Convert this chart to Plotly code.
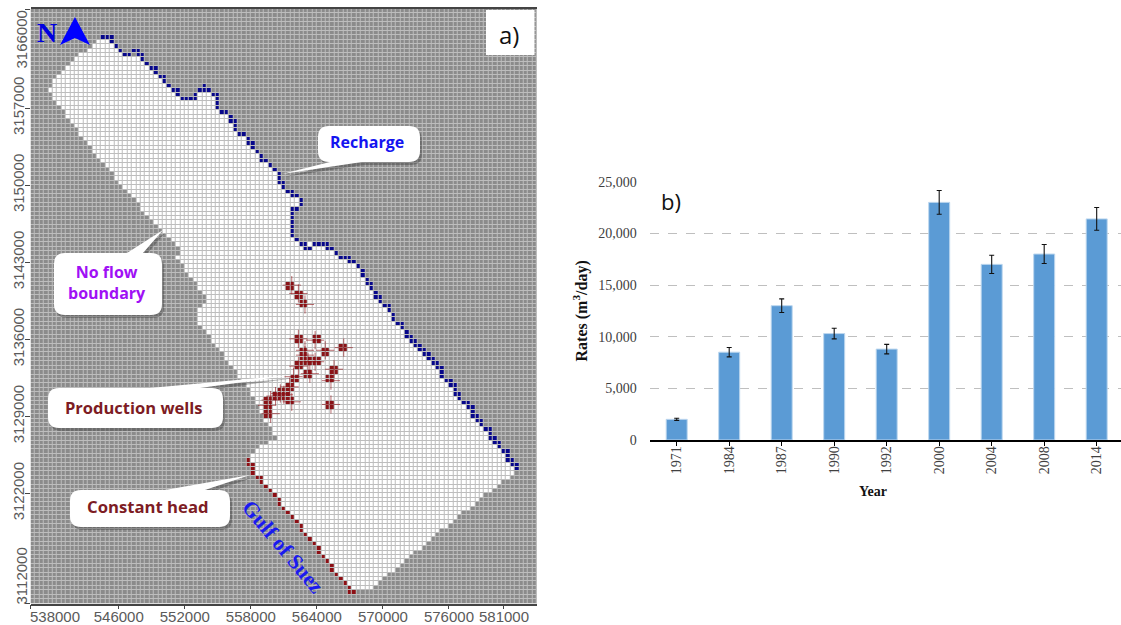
import numpy as np
import plotly.graph_objects as go

# ---------- panel b data ----------
years = ["1971", "1984", "1987", "1990", "1992", "2000", "2004", "2008", "2014"]
rates = [2000, 8500, 13000, 10300, 8800, 23000, 17000, 18000, 21400]
rate_err = [100, 450, 660, 515, 460, 1150, 880, 920, 1100]

# ---------- panel a data (model grid: 400 m cells, columns from W, rows from N) ----------
x_ticks = [546000, 552000, 558000, 564000, 570000, 576000, 581000]
y_ticks = [3122000, 3129000, 3136000, 3143000, 3150000, 3157000]
x_end_ticks = [538000]
y_end_ticks = [3112000, 3166000]
active_first_row = 7
active_left = [15,14,13,11,10,9,8,7,6,5,5,4,5,5,6,7,8,8,9,10,11,11,12,13,14,14,15,16,
               17,18,19,19,20,21,22,23,24,25,25,26,27,28,29,30,31,32,33,34,34,33,34,
               35,35,36,37,38,38,39,40,40,39,38,38,38,38,39,40,41,41,42,43,44,44,45,46,47,47,48,49,50,
               50,51,51,52,52,53,53,54,55,55,56,54,52,51,50,50,
               49,50,50,51,52,53,54,55,56,56,57,58,59,60,61,61,62,63,64,65,65,66,67,68,68,69,70,71,72,72]
active_right = [18,19,20,22,25,26,28,28,30,30,31,33,33,42,42,42,44,45,46,46,46,48,49,50,50,51,52,
                53,54,55,56,56,57,57,59,60,61,61,60,59,59,59,59,59,59,60,67,68,69,72,73,74,75,75,
                76,77,77,78,79,79,81,81,82,82,84,84,85,86,87,88,89,90,91,92,93,93,93,95,96,96,97,97,
                99,100,100,101,102,102,104,104,105,106,106,108,108,109,110,110,
                109,108,106,105,104,102,101,100,99,97,96,95,94,92,91,90,89,88,86,85,84,83,82,80,79,78,77,73]
bump_row = [19]
bump_first = [38]
bump_last = [40]
recharge_cells = [(16,6),(17,6),(18,6),(18,7),(19,8),(20,9),(21,10),(22,10),(23,9),(24,9),(24,10),(25,10),(25,11),
    (26,12),(27,13),(28,13),(28,14),(29,15),(30,15),(30,16),(31,17),(32,18),(33,18),(33,19),(34,20),(35,20),(36,20),
    (37,20),(37,19),(38,18),(39,17),(39,18),(40,18),(41,19),(42,19),(42,20),(42,21),(42,22),(43,23),(44,23),(45,24),
    (45,25),(46,25),(46,26),(46,27),(47,28),(48,28),(49,29),(49,30),(50,30),(50,31),(51,32),(52,33),(52,34),(53,34),
    (54,35),(55,36),(56,37),(56,38),(56,39),(57,39),(57,40),(58,41),(59,41),(59,42),(60,42),(61,43),(61,44),(60,45),
    (59,45),(59,46),(59,47),(59,48),(59,49),(59,50),(59,51),(60,52),(61,53),(62,53),(62,54),(63,54),(64,53),(65,53),
    (66,53),(67,53),(67,54),(68,54),(69,55),(70,56),(71,56),(72,56),(72,57),(73,57),(74,58),(75,59),(75,60),(76,61),
    (76,62),(77,62),(77,63),(78,64),(78,65),(79,65),(79,66),(80,67),(81,67),(81,68),(82,69),(82,70),(83,71),(84,71),
    (84,72),(85,73),(85,74),(86,74),(86,75),(87,75),(87,76),(88,76),(88,77),(89,77),(89,78),(90,78),(90,79),(91,79),
    (91,80),(92,80),(92,81),(93,81),(93,82),(93,83),(94,84),(95,84),(95,85),(96,85),(96,86),(96,87),(97,87),(97,88),
    (98,89),(99,89),(99,90),(100,90),(100,91),(100,92),(101,92),(101,93),(102,93),(102,94),(103,95),(104,95),(104,96),
    (104,97),(105,97),(105,98),(106,98),(106,99),(107,100),(108,100),(108,101),(108,102),(109,102),(109,103),(110,103),(110,104)]
constant_cells = [(49,102),(49,103),(50,103),(50,104),(50,105),(51,106),(52,106),(52,107),(53,108),(54,109),(55,110),
    (56,111),(56,112),(57,113),(58,114),(59,115),(60,116),(61,117),(61,118),(62,119),(63,120),(64,121),(65,122),(65,123),
    (66,124),(67,125),(68,126),(68,127),(69,128),(70,129),(71,130),(72,131),(72,132),(73,132)]
well_col = [59.3,60.8,62.3,60.8,64.6,71.1,66.9,62.3,62.3,60.8,63.0,64.6,68.9,63.4,59.7,68.2,58.8,56.7,55.6,54.5,53.7,59.3,54.5,68.2,57.5]
well_row = [62.7,64.6,67.1,74.9,75.2,76.9,77.5,77.5,78.6,81.1,80.1,80.1,81.8,82.8,83.5,84.4,85.8,87.3,87.9,88.8,90.0,89.2,91.9,89.8,87.6]

W, H = 1121, 625
X0, Y1, CELL = 538000, 3166000, 400
NCOL, NROW = 115, 135

z = np.zeros((NROW, NCOL), dtype=int)
for i, (a, b) in enumerate(zip(active_left, active_right)):
    z[active_first_row + i, a:b + 1] = 1
for r, a, b in zip(bump_row, bump_first, bump_last):
    z[r, a:b + 1] = 1
for c, r in recharge_cells:
    z[r, c] = 2
for c, r in constant_cells:
    z[r, c] = 3
for c, r in zip(well_col, well_row):
    ci, ri = int(round(c)), int(round(r))
    z[ri - 1:ri + 1, ci - 1:ci + 1] = 4

xc = [X0 + CELL * (c + 0.5) for c in range(NCOL)]
yc = [Y1 - CELL * (r + 0.5) for r in range(NROW)]

def fx(p): return p / W
def fy(p): return 1 - p / H

fig = go.Figure()
colors = ["#8b8b8b", "#ffffff", "#07078a", "#8c0f14", "#8a1418"]
cs = []
for i, c in enumerate(colors):
    cs += [[i / 5, c], [(i + 1) / 5, c]]
fig.add_trace(go.Heatmap(x=xc, y=yc, z=z, zmin=0, zmax=5, colorscale=cs, showscale=False,
                         xgap=1, ygap=1, hoverinfo="skip", xaxis="x", yaxis="y"))
fig.add_trace(go.Scatter(x=[X0 + CELL * c for c in well_col], y=[Y1 - CELL * r for r in well_row],
                         mode="markers", hoverinfo="skip", showlegend=False, xaxis="x", yaxis="y",
                         marker=dict(symbol="cross-thin", size=13, line=dict(width=1, color="rgba(140,15,20,0.6)"))))

fig.add_trace(go.Bar(x=years, y=rates, width=0.4, xaxis="x2", yaxis="y2", showlegend=False,
                     marker=dict(color="#5B9BD5", line=dict(color="#BDD7EE", width=1)),
                     error_y=dict(type="data", array=rate_err, visible=True, color="#111111", thickness=1.1, width=2.5)))

shapes = [dict(type="rect", xref="paper", yref="paper", layer="below", x0=fx(30.7), x1=fx(537),
               y0=fy(603.5), y1=fy(9), fillcolor="#bdbdbd", line_width=0)]

def callout(x0, y0, x1, y1, tail, r=11, dx=0, dy=0):
    b1, tip, b2, side = tail
    def P(x, y): return f"{fx(x + dx):.5f},{fy(y + dy):.5f}"
    d = f"M{P(x0 + r, y0)}"
    if side == "top":
        d += f" L{P(b1, y0)} L{P(*tip)} L{P(b2, y0)}"
    d += f" L{P(x1 - r, y0)} Q{P(x1, y0)} {P(x1, y0 + r)} L{P(x1, y1 - r)} Q{P(x1, y1)} {P(x1 - r, y1)}"
    if side == "bottom":
        d += f" L{P(b2, y1)} L{P(*tip)} L{P(b1, y1)}"
    d += f" L{P(x0 + r, y1)} Q{P(x0, y1)} {P(x0, y1 - r)} L{P(x0, y0 + r)} Q{P(x0, y0)} {P(x0 + r, y0)} Z"
    return d

boxes = [
    (318, 126, 420, 162, (330, (282, 174), 362, "bottom")),
    (54, 253, 162, 315, (127, (163, 230), 143, "top")),
    (48, 388, 223, 428, (150, (293, 375), 200, "top")),
    (70, 490, 230, 527, (165, (250, 475), 205, "top")),
]
for b in boxes:
    shapes.append(dict(type="path", xref="paper", yref="paper", path=callout(*b, dx=2, dy=3),
                       fillcolor="rgba(50,50,50,0.35)", line_width=0))
    shapes.append(dict(type="path", xref="paper", yref="paper", path=callout(*b),
                       fillcolor="#ffffff", line_width=0))
# white box behind a)
shapes.append(dict(type="rect", xref="paper", yref="paper", x0=fx(486), x1=fx(534.5), y0=fy(55), y1=fy(10),
                   fillcolor="#ffffff", line_width=0))
# north arrow
arrow = [(75, 17), (90, 45), (75, 38), (60, 45)]
shapes.append(dict(type="path", xref="paper", yref="paper", fillcolor="#0000ff", line_width=0,
                   path="M" + " L".join(f"{fx(a):.5f},{fy(b):.5f}" for a, b in arrow) + " Z"))

def note(x, y, text, size, color, family="Open Sans", bold=False, angle=0):
    return dict(xref="paper", yref="paper", x=fx(x), y=fy(y), text=f"<b>{text}</b>" if bold else text,
                showarrow=False, xanchor="center", yanchor="middle", textangle=angle,
                font=dict(family=family, size=size, color=color))

tick_col = "#5a5a5a"
serif = "Liberation Serif"
annots = [
    note(367, 142, "Recharge", 16, "#1414f0", bold=True),
    note(107, 282, "No flow<br>boundary", 16, "#a010f5", bold=True),
    note(134, 407, "Production wells", 16.5, "#7d1c24", bold=True),
    note(148, 506, "Constant head", 16.7, "#7d1c24", bold=True),
    note(283, 547, "Gulf of Suez", 21.5, "#1a1af0", family=serif, bold=True, angle=50),
    note(46.5, 33, "N", 28, "#0000e0", family=serif, bold=True),
    note(509, 34, "a)", 24, "#111111"),
    note(671, 201, "b)", 22, "#111111"),
    note(55, 616, "538000", 15, tick_col, family="Liberation Sans"),
    note(20.5, 40, "3166000", 15, tick_col, family="Liberation Sans", angle=-90),
    note(20.5, 576, "3112000", 15, tick_col, family="Liberation Sans", angle=-90),
    note(873, 491, "Year", 14, "#111", family=serif, bold=True),
]

fig.update_layout(
    width=W, height=H, margin=dict(l=0, r=0, t=0, b=0), autosize=False,
    paper_bgcolor="#ffffff", plot_bgcolor="#ffffff", showlegend=False, bargap=0.6,
    shapes=shapes, annotations=annots,
    xaxis=dict(domain=[fx(30.7), fx(537)], range=[538000, 584000], tickmode="array", tickvals=x_ticks,
               ticktext=[str(v) for v in x_ticks], ticks="outside", ticklen=4, tickcolor="#444", automargin=False,
               ticklabelstandoff=-5,
               minor=dict(tickmode="array", tickvals=x_end_ticks, ticks="outside", ticklen=4, tickcolor="#444"),
               tickfont=dict(family="Liberation Sans", size=15, color=tick_col), showgrid=False, zeroline=False,
               showline=True, mirror=True, linecolor="#444", linewidth=1.5, anchor="y"),
    yaxis=dict(domain=[fy(603.5), fy(9)], range=[3112000, 3166000], tickmode="array", tickvals=y_ticks,
               ticktext=[str(v) for v in y_ticks], ticks="outside", ticklen=5, automargin=False,
               ticklabelstandoff=-5,
               minor=dict(tickmode="array", tickvals=y_end_ticks, ticks="outside", ticklen=5, tickcolor="#444"),
               tickcolor="#444", tickangle=-90, tickfont=dict(family="Liberation Sans", size=15, color=tick_col),
               showgrid=False, zeroline=False, showline=False, anchor="x"),
    xaxis2=dict(domain=[fx(650.45), 1], type="category", range=[-0.5, 8.463], ticks="outside", ticklen=4,
                tickcolor="#000", tickangle=-90, tickfont=dict(family=serif, size=14, color="#404040"),
                ticklabelstandoff=-5,
                showline=True, linecolor="#000", linewidth=1.5, showgrid=False, anchor="y2", automargin=False),
    yaxis2=dict(domain=[fy(440), fy(181.7)], range=[0, 25000], tickmode="array",
                tickvals=[0, 5000, 10000, 15000, 20000, 25000], tickformat=",d", ticks="outside", ticklen=10,
                tickcolor="rgba(0,0,0,0)", tickfont=dict(family=serif, size=14, color="#404040"),
                showgrid=True, gridcolor="#bfbfbf", griddash="dash", gridwidth=1, zeroline=False, showline=False,
                anchor="x2", automargin=False,
                title=dict(text="<b>Rates (m<sup>3</sup>/day)</b>", font=dict(family=serif, size=16, color="#111"), standoff=6)),
)
fig.write_html("out.html", config={"displayModeBar": False},
               post_script="document.body.style.margin='0';document.documentElement.style.overflow='hidden';")
